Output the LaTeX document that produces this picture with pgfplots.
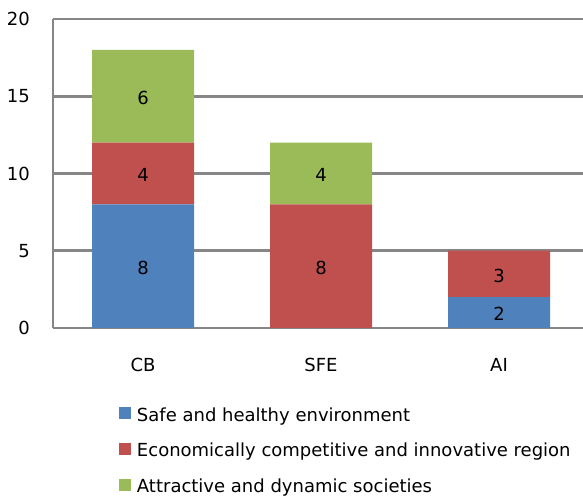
\documentclass[border=0pt]{standalone}
\usepackage{fontspec}
\setmainfont{DejaVu Sans}
\usepackage{pgfplots}
\pgfplotsset{compat=1.18}
\definecolor{cblue}{HTML}{4F81BD}
\definecolor{cred}{HTML}{C0504D}
\definecolor{cgreen}{HTML}{9BBB59}
\definecolor{gridgray}{HTML}{868686}
\pgfplotsset{mylegend/.style={legend image code/.code={\fill[##1,draw=none] (0pt,-3pt) rectangle (12pt,9pt); \path (18pt,0pt);}}}
\begin{document}
\begin{tikzpicture}
\begin{axis}[
  at={(53pt,169pt)}, anchor=south west,
  scale only axis, width=530pt, height=309pt,
  ybar stacked, bar width=102pt,
  xmin=-0.506, xmax=2.472, ymin=0, ymax=20,
  xtick={0,1,2}, xticklabels={CB,SFE,AI},
  ytick={0,5,10,15,20},
  axis lines=left,
  axis line style={-, line width=2.8pt, color=gridgray},
  ymajorgrids, grid style={line width=2.8pt, color=gridgray},
  major tick length=0pt,
  /pgf/number format/assume math mode=true,
  tick label style={font=\fontsize{18}{22}\selectfont, inner sep=0pt},
  yticklabel style={anchor=east, xshift=-23pt},
  xticklabel style={anchor=north, yshift=-30pt},
  point meta=explicit symbolic,
  nodes near coords={\ifnum\pgfplotspointmeta=0 \else\raisebox{-8.2pt}[0pt][0pt]{\pgfplotspointmeta}\fi},
  every node near coord/.append style={anchor=base, inner sep=0pt, font=\fontsize{18}{22}\selectfont, text=black},
  legend cell align=left,
  legend style={at={(0.1245,-0.2568)}, anchor=north west, draw=none, fill=none,
    inner sep=0pt, outer sep=0pt, row sep=17.8pt, font=\fontsize{18}{22}\selectfont,
    nodes={inner sep=0pt, text height=13.7pt, text depth=4.3pt}},
]
\addplot[fill=cblue, draw=none, mylegend] coordinates {(0,8) [8] (1,0) [0] (2,2) [2]};
\addplot[fill=cred, draw=none, mylegend] coordinates {(0,4) [4] (1,8) [8] (2,3) [3]};
\addplot[fill=cgreen, draw=none, mylegend] coordinates {(0,6) [6] (1,4) [4] (2,0) [0]};
\legend{Safe and healthy environment, Economically competitive and innovative region, Attractive and dynamic societies}
\end{axis}
\pgfresetboundingbox
\path[use as bounding box] (0,0) rectangle (583pt,497pt);
\end{tikzpicture}
\end{document}
